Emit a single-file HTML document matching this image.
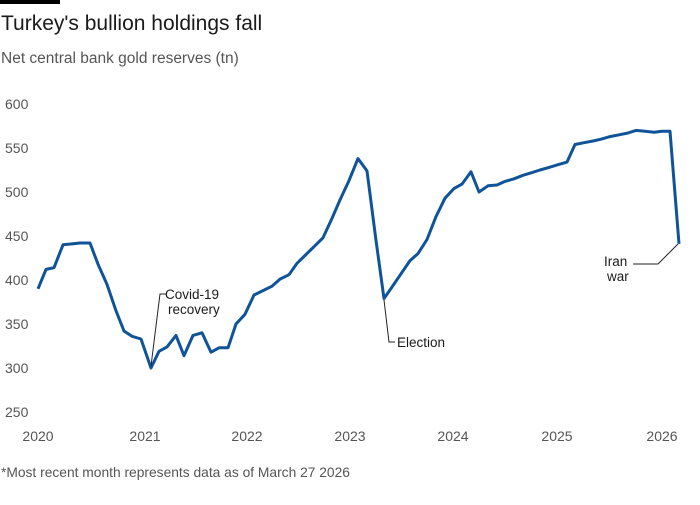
<!DOCTYPE html>
<html><head><meta charset="utf-8"><style>
body{margin:0;background:#fff;width:700px;height:500px;overflow:hidden;font-family:"Liberation Sans",sans-serif;}
</style></head><body>
<svg width="700" height="500" xmlns="http://www.w3.org/2000/svg" font-family="Liberation Sans, sans-serif">
<rect x="0" y="0" width="60" height="4" fill="#000"/>
<text x="1" y="30" font-size="21" fill="#1a1a1a">Turkey's bullion holdings fall</text>
<text x="1" y="63" font-size="15.5" fill="#555">Net central bank gold reserves (tn)</text>
<g font-size="14" fill="#555">
<text x="5" y="109">600</text><text x="5" y="153">550</text><text x="5" y="197">500</text>
<text x="5" y="241">450</text><text x="5" y="285">400</text><text x="5" y="329">350</text>
<text x="5" y="373">300</text><text x="5" y="417">250</text>
</g>
<g font-size="14" fill="#555" text-anchor="middle">
<text x="38" y="441">2020</text><text x="145" y="441">2021</text><text x="247" y="441">2022</text>
<text x="350" y="441">2023</text><text x="453" y="441">2024</text><text x="557" y="441">2025</text><text x="662" y="441">2026</text>
</g>
<text x="1" y="477" font-size="13.8" fill="#555">*Most recent month represents data as of March 27 2026</text>
<polyline id="ln" fill="none" stroke="#0f5499" stroke-width="3" stroke-linejoin="round" points=""/>
<g stroke="#222" stroke-width="1" fill="none">
<polyline points="151,366 160,294 166,294"/>
<polyline points="384,300 389,342 395,342"/>
<polyline points="678,244 658,264 633,264"/>
</g>
<g font-size="13.5" fill="#1a1a1a">
<text x="165" y="299">Covid-19</text><text x="168" y="314">recovery</text>
<text x="397" y="347">Election</text>
<text x="604" y="266">Iran</text><text x="607" y="281">war</text>
</g>
</svg>
<script>
var d=[[38,390],[46,412],[54,414],[63,440],[72,441],[80,442],[90,442],[98,418],[107,395],[116,365],[124,342],[132,336],[141,333],[151,300],[159,319],[167,324],[176,337],[184,314],[193,337],[202,340],[211,318],[219,323],[228,323],[236,350],[245,361],[254,383],[263,388],[272,393],[280,401],[289,406],[297,419],[306,429],[315,439],[323,448],[332,470],[340,491],[349,513],[358,538],[367,524],[376,445],[384,379],[392,392],[401,407],[410,422],[418,430],[427,446],[436,472],[445,493],[454,504],[462,509],[471,523],[479,500],[488,507],[497,508],[505,512],[514,515],[523,519],[532,522],[540,525],[549,528],[558,531],[567,534],[575,554],[584,556],[593,558],[601,560],[610,563],[619,565],[628,567],[636,570],[645,569],[654,568],[662,569],[670,569],[679,441]];
document.getElementById('ln').setAttribute('points',d.map(function(p){return p[0]+','+(368-(p[1]-300)*0.88).toFixed(1)}).join(' '));
</script>
</body></html>
